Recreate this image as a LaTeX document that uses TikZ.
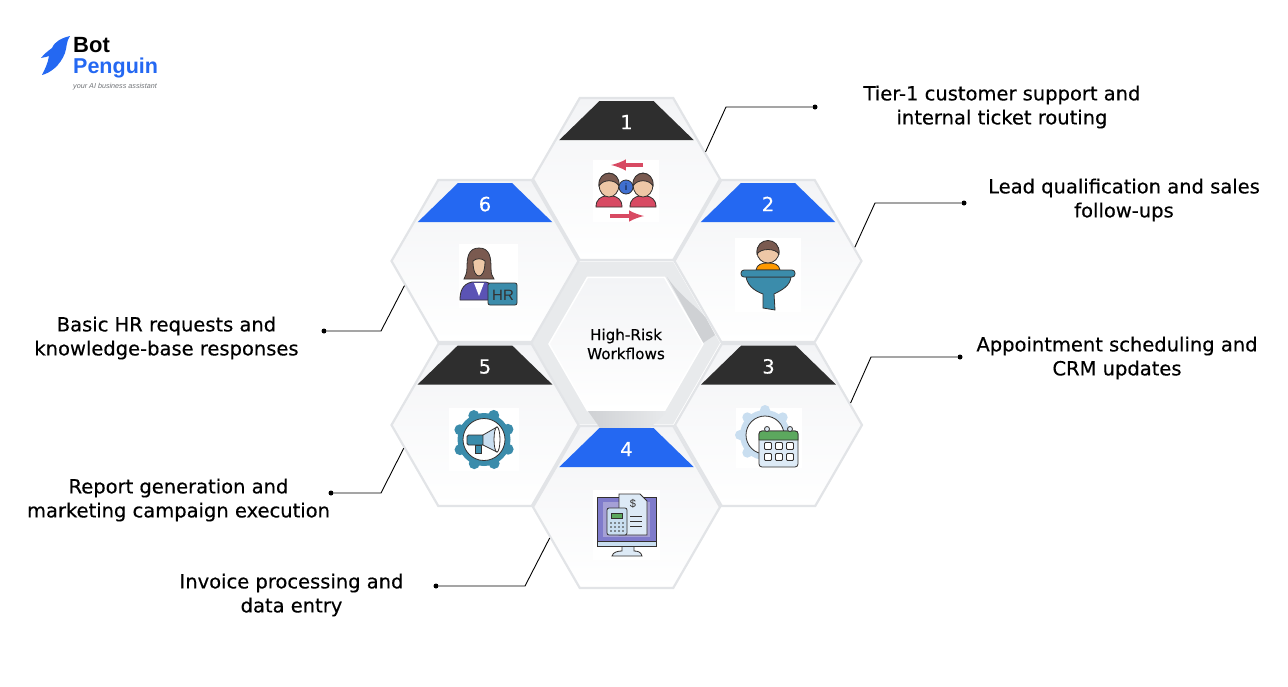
\documentclass[tikz,border=0pt]{standalone}
\usepackage{fontspec}
\setmainfont[RawFeature={embolden=0.35}]{DejaVu Sans}
\newfontfamily\plainfont{Liberation Sans}
\newfontfamily\logofont{Liberation Sans Bold}
\usepackage{tikz}
\usetikzlibrary{shapes,shapes.geometric,arrows,positioning}
\definecolor{tabblue}{HTML}{2468F2}
\definecolor{tabdark}{HTML}{2E2E2E}
\definecolor{hexedge}{HTML}{E2E4E7}
\definecolor{hexfill}{HTML}{F3F4F6}
\definecolor{frameg}{HTML}{E8EAEC}
\definecolor{wedge}{HTML}{CFD1D4}
\definecolor{inkline}{HTML}{33302F}
\definecolor{hairb}{HTML}{7A5A50}
\definecolor{skin}{HTML}{EEC7A6}
\definecolor{shirt}{HTML}{D84A63}
\definecolor{tealb}{HTML}{3B8CAB}
\definecolor{paleb}{HTML}{DDEAF6}
\definecolor{gearb}{HTML}{C9DEF0}
\definecolor{purp}{HTML}{7F7BCB}
\definecolor{suit}{HTML}{5B53B5}
\definecolor{leafg}{HTML}{5CA85E}
\definecolor{tagg}{HTML}{6F7276}

\begin{document}
\begin{tikzpicture}[x=1pt, y=-1pt]
    % Define styles
    \tikzstyle{hexcell} = [regular polygon, regular polygon sides=6, minimum size=187, inner sep=0, draw=hexedge, line width=2.2, top color=hexfill, bottom color=white]
    \tikzstyle{tabbar} = [trapezium, trapezium left angle=61.7, trapezium right angle=61.7, trapezium stretches=true, minimum width=135, minimum height=39, inner sep=0, text=white, text height=17, text depth=0, font=\fontsize{19.5}{24}\selectfont]
    \tikzstyle{caption} = [align=center, font=\fontsize{19.5}{24}\selectfont, text=black]
    \tikzstyle{dotmark} = [circle, fill=black, inner sep=0, minimum size=5]
    \tikzstyle{lead} = [draw=black, line width=0.9]
    \tikzstyle{ink} = [draw=inkline, line width=0.8]

    \useasboundingbox (0,0) rectangle (1288,686);

    % Logo
    \fill[tabblue] (70,36) .. controls (62,38) and (55,41) .. (52,48) .. controls (48,51) and (44,54) .. (41,58) .. controls (45,57) and (47,57) .. (49,56) .. controls (48,63) and (45,69) .. (42,75) .. controls (50,73) and (60,66) .. (65,53) .. controls (67,47) and (66,42) .. cycle;
    \node[anchor=base west, inner sep=0, font=\logofont\fontsize{22}{22}\selectfont] (logobot) at (73,52) {Bot};
    \node[anchor=base west, inner sep=0, text=tabblue, font=\logofont\fontsize{21.5}{22}\selectfont] (logopenguin) at (73,73) {Penguin};
    \node[anchor=base west, inner sep=0, text=tagg, font=\plainfont\fontsize{7.2}{9}\selectfont\itshape] (logotag) at (73,88) {your AI business assistant};

    % Nodes
    \node[regular polygon, regular polygon sides=6, minimum size=188, inner sep=0, fill=frameg] (frame) at (626,343) {};
    \fill[wedge] (667,277) .. controls (680,296) and (695,305) .. (706,318) -- (715,335) -- (703,343) -- cycle;
    \node[hexcell] (hex6) at (485,261) {};
    \node[hexcell] (hex2) at (768,261) {};
    \node[hexcell] (hex5) at (485,425) {};
    \node[hexcell] (hex3) at (768.5,425) {};
    \node[hexcell] (hex1) at (626.5,179) {};
    \node[hexcell] (hex4) at (626.5,507) {};
    \node[regular polygon, regular polygon sides=6, minimum size=154, inner sep=0, draw=white, line width=1.5, top color=hexfill, bottom color=white, align=center, font=\fontsize{15.2}{19}\selectfont] (center) at (626,344) {High-Risk\\Workflows};
    \shade[left color=wedge, right color=frameg] (588,411) -- (667,411) -- (650,428) -- (600,428) -- cycle;

    \node[tabbar, fill=tabdark] (tab1) at (626.5,120.7) {1};
    \node[tabbar, fill=tabblue] (tab2) at (768,202.7) {2};
    \node[tabbar, fill=tabdark] (tab3) at (768.5,365) {3};
    \node[tabbar, fill=tabblue] (tab4) at (626.5,447.7) {4};
    \node[tabbar, fill=tabdark] (tab5) at (485,365) {5};
    \node[tabbar, fill=tabblue] (tab6) at (485,202.7) {6};

    \node[caption] (text1) at (1002,107) {Tier-1 customer support and\\internal ticket routing};
    \node[caption] (text2) at (1124,200) {Lead qualification and sales\\follow-ups};
    \node[caption] (text3) at (1117,358) {Appointment scheduling and\\CRM updates};
    \node[caption] (text4) at (291.5,595) {Invoice processing and\\data entry};
    \node[caption] (text5) at (178.5,500) {Report generation and\\marketing campaign execution};
    \node[caption] (text6) at (166.5,338) {Basic HR requests and\\knowledge-base responses};

    \node[dotmark] (dot1) at (815,107) {};
    \node[dotmark] (dot2) at (964,203) {};
    \node[dotmark] (dot3) at (960,357) {};
    \node[dotmark] (dot4) at (436,586) {};
    \node[dotmark] (dot5) at (331,493) {};
    \node[dotmark] (dot6) at (324,331) {};
    \coordinate (bend1) at (726,107);
    \coordinate (bend2) at (875,203);
    \coordinate (bend3) at (871,357);
    \coordinate (bend4) at (525,586);
    \coordinate (bend5) at (381,493);
    \coordinate (bend6) at (381,331);

    % Connections
    \draw[lead] (hex1.19) -- (bend1) -- (dot1);
    \draw[lead] (hex2.9) -- (bend2) -- (dot2);
    \draw[lead] (hex3.15.5) -- (bend3) -- (dot3);
    \draw[lead] (hex4.202.8) -- (bend4) -- (dot4);
    \draw[lead] (hex5.196) -- (bend5) -- (dot5);
    \draw[lead] (hex6.197) -- (bend6) -- (dot6);

    % Icon 1
    \fill[white] (593,160) rectangle (659,222);
    \draw[shirt, line width=4, -latex] (643,165) -- (611,165);
    \draw[shirt, line width=4, -latex] (610,216) -- (644,216);
    \foreach \bx in {609,643} {
        \begin{scope}[shift={(\bx,185)}]
            \draw[ink, fill=shirt] (-13,22) .. controls (-13,14) and (-8,12) .. (-4,11) -- (4,11) .. controls (8,12) and (13,14) .. (13,22) -- cycle;
            \draw[ink, fill=skin] (0,0) circle [x radius=10, y radius=12];
            \draw[ink, fill=hairb] (-10,1) .. controls (-12,-16) and (12,-16) .. (10,1) .. controls (6,-6) and (-6,-6) .. cycle;
        \end{scope}
    }
    \draw[ink, fill=tabblue!70!gray] (626,187) circle (7);
    \node[inner sep=0, font=\plainfont\fontsize{9}{9}\selectfont] (infoi) at (626,187) {i};

    % Icon 2
    \fill[white] (735,238) rectangle (801,312);
    \draw[ink, fill=orange!80!yellow] (756,270) .. controls (757,264) and (762,263) .. (768,263) .. controls (774,263) and (779,264) .. (780,270) -- cycle;
    \draw[ink, fill=skin] (768,252) circle (11);
    \draw[ink, fill=hairb] (757,254) .. controls (755,236) and (781,236) .. (779,254) .. controls (775,248) and (761,248) .. cycle;
    \draw[ink, fill=tealb] (746,277) .. controls (748,288) and (758,292) .. (763,294) -- (763,308) -- (775,310) -- (774,294) .. controls (782,290) and (790,286) .. (791,277) -- cycle;
    \draw[ink, fill=tealb, rounded corners=3] (741,270) rectangle (795,277);

    % Icon 3
    \fill[white] (736,408) rectangle (802,468);
    \foreach \ga in {0,45,...,315} {
        \fill[gearb] (765,435) ++(\ga:25) circle (5);
    }
    \fill[gearb] (765,435) circle (25);
    \draw[ink, fill=white] (765,435) circle (19);
    \draw[ink, fill=paleb, rounded corners=3] (759,431) rectangle (798,467);
    \draw[ink, fill=leafg] (759,440) -- (759,434) .. controls (759,432) and (760,431) .. (762,431) -- (795,431) .. controls (797,431) and (798,432) .. (798,434) -- (798,440) -- cycle;
    \foreach \rx in {767,790} {
        \draw[ink, fill=paleb] (\rx,429) circle (2.5);
    }
    \foreach \cx in {768,779,790} {
        \foreach \cy in {446,457} {
            \draw[ink, fill=white, rounded corners=1] (\cx-3.5,\cy-3.5) rectangle (\cx+3.5,\cy+3.5);
        }
    }

    % Icon 4
    \fill[white] (593,490) rectangle (660,560);
    \draw[ink, fill=paleb] (612,556) .. controls (613,552) and (618,551) .. (622,551) -- (622,546) -- (634,546) -- (634,551) .. controls (638,551) and (641,552) .. (642,556) -- cycle;
    \draw[ink, fill=purp] (597,497) rectangle (656,541);
    \draw[ink, fill=gearb] (597,541) rectangle (656,546);
    \fill[suit!55!white] (603,502) rectangle (650,537);
    \draw[ink, fill=paleb] (619,494) -- (640,494) -- (647,501) -- (647,535) -- (619,535) -- cycle;
    \node[inner sep=0, text=inkline, font=\plainfont\fontsize{11}{11}\selectfont] (dollar) at (633,504) {\$};
    \foreach \ly in {516,521,526} {
        \draw[inkline, line width=0.7] (630,\ly) -- (642,\ly);
    }
    \draw[ink, fill=gearb, rounded corners=2] (607,508) rectangle (627,535);
    \draw[ink, fill=leafg] (611,513) rectangle (622,518);
    \foreach \kx in {611,615,619,623} {
        \foreach \ky in {523,527,531} {
            \fill[inkline] (\kx,\ky) circle (0.8);
        }
    }

    % Icon 5
    \fill[white] (449,408) rectangle (519,471);
    \foreach \ga in {0,45,...,315} {
        \fill[tealb] (484,439.5) ++(\ga+22:26) circle (5.5);
    }
    \fill[tealb] (484,439.5) circle (26.5);
    \draw[ink, fill=white] (484,439.5) circle (21);
    \draw[ink, fill=tealb] (475,445) -- (481,445) -- (481,453) -- (475,453) -- cycle;
    \draw[ink, fill=tealb, rounded corners=1.5] (467,435) rectangle (484,445);
    \draw[ink, fill=gearb] (483,435) -- (497,427) -- (497,452) -- (483,445) -- cycle;
    \draw[ink, fill=white] (497,439.5) circle [x radius=3, y radius=12.5];

    % Icon 6
    \fill[white] (459,244) rectangle (518,308);
    \draw[ink, fill=hairb] (479,248) .. controls (468,248) and (467,258) .. (467,268) .. controls (467,274) and (465,276) .. (464,279) -- (494,279) .. controls (492,276) and (491,274) .. (491,268) .. controls (491,258) and (490,248) .. (479,248) -- cycle;
    \draw[ink, fill=suit] (460,300) .. controls (460,292) and (462,284) .. (472,282) -- (486,282) .. controls (494,284) and (497,292) .. (497,300) -- cycle;
    \fill[white] (474,283) -- (484,283) -- (479,296) -- cycle;
    \draw[ink, fill=skin] (473,261) .. controls (473,272) and (476,276) .. (479,276) .. controls (482,276) and (485,272) .. (485,261) .. controls (482,258) and (476,258) .. cycle;
    \draw[ink, fill=tealb, rounded corners=2] (488,283) rectangle (517,305);
    \node[inner sep=0, text=inkline, font=\plainfont\fontsize{15}{15}\selectfont] (hrtag) at (503,295) {HR};
\end{tikzpicture}
\end{document}
